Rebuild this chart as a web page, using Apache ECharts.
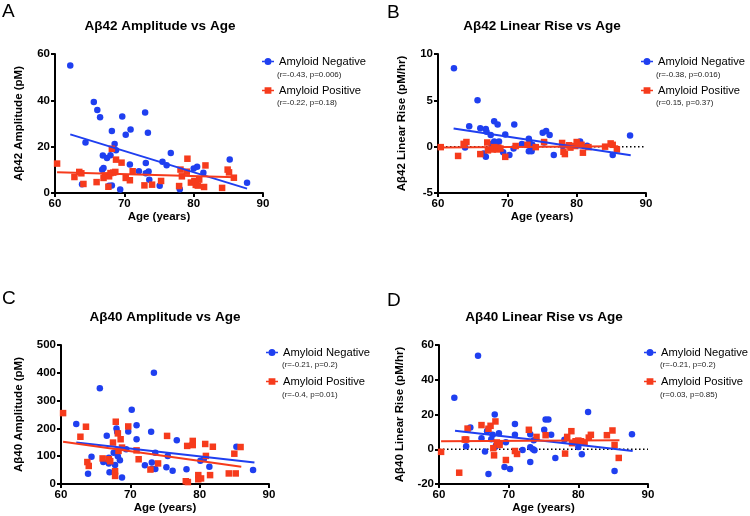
<!DOCTYPE html>
<html><head><meta charset="utf-8">
<script src="https://cdn.jsdelivr.net/npm/echarts@6/dist/echarts.min.js"></script>
<style>html,body{margin:0;padding:0;background:#fff}#c{width:750px;height:516px}</style>
</head><body><div id="c"></div>
<script>
// ---------- data ----------
const xTicks = [60, 70, 80, 90];
const panelLetters = ['A', 'B', 'C', 'D'];
const panelTitles = ['Aβ42 Amplitude vs Age', 'Aβ42 Linear Rise vs Age', 'Aβ40 Amplitude vs Age', 'Aβ40 Linear Rise vs Age'];
const yNames = ['Aβ42 Amplitude (pM)', 'Aβ42 Linear Rise (pM/hr)', 'Aβ40 Amplitude (pM)', 'Aβ40 Linear Rise (pM/hr)'];
const xName = 'Age (years)';
const seriesNames = ['Amyloid Negative', 'Amyloid Positive'];
const statsNeg = ['(r=-0.43, p=0.006)', '(r=-0.38, p=0.016)', '(r=-0.21, p=0.2)', '(r=-0.21, p=0.2)'];
const statsPos = ['(r=-0.22, p=0.18)', '(r=0.15, p=0.37)', '(r=-0.4, p=0.01)', '(r=0.03, p=0.85)'];
const yMin = [0, -5, 0, -20];
const yMax = [60, 10, 500, 60];
const yStep = [20, 5, 100, 20];

const A_neg = [[62.2,55],[65.6,39.3],[66.1,35.8],[66.5,32.7],[64.4,21.8],[63.9,3.8],[66.9,16.2],[66.8,10.0],[67.0,10.8],[67.5,15.1],[68.0,16.3],[68.2,26.8],[68.6,21.2],[68.8,18.4],[67.8,3.1],[68.2,3.2],[69.4,1.5],[69.7,33.0],[70.2,25.1],[70.9,27.4],[70.8,12.3],[72.1,9.4],[73.0,34.7],[73.4,26.0],[73.1,12.9],[73.1,8.5],[73.5,9.3],[73.6,5.7],[75.1,3.1],[75.5,13.5],[76.1,12.0],[76.7,17.3],[78.0,1.6],[80.0,10.6],[80.5,11.3],[81.4,8.7],[85.2,14.5],[87.7,4.4]];
const A_pos = [[60.3,12.7],[62.8,6.9],[63.5,9.1],[63.8,8.5],[64.1,3.9],[66.0,4.7],[67.0,6.5],[67.2,7.6],[67.8,7.2],[68.0,8.6],[67.7,2.7],[68.2,19.1],[68.4,8.8],[68.7,9.1],[68.8,14.4],[69.6,13.1],[70.2,6.5],[70.8,5.5],[71.2,9.4],[72.9,3.3],[74.0,3.6],[75.3,5.2],[77.9,3.0],[78.1,10.1],[78.3,7.2],[79.1,14.8],[79.0,9.2],[79.6,4.5],[80.1,5.2],[80.3,3.5],[80.6,3.2],[80.8,5.8],[81.5,2.6],[81.7,11.9],[84.1,2.2],[84.9,10.1],[85.1,8.9],[85.8,6.6]];
const A_fitNeg = [[62.2,25.3],[87.7,1.9]];
const A_fitPos = [[60.3,9.0],[86.1,6.8]];

const B_neg = [[62.3,8.46],[64.5,2.2],[63.9,-0.1],[65.7,5.0],[66.1,2.0],[66.9,1.9],[67.0,1.6],[66.6,-0.75],[66.9,-1.1],[67.6,1.25],[67.7,0.3],[68.1,2.75],[68.6,2.4],[68.1,0.55],[68.4,0.3],[68.8,0.55],[69.7,1.3],[69.4,-0.6],[70.3,-0.9],[71.0,2.4],[70.9,-0.2],[72.1,0.3],[73.1,0.85],[73.2,0.5],[73.6,0.2],[73.4,-0.25],[73.1,-0.5],[73.5,-0.5],[73.7,-0.1],[75.1,1.5],[75.6,1.7],[76.1,1.25],[75.3,0.45],[76.7,-0.9],[78.0,0.07],[80.1,0.4],[80.5,0.55],[81.5,0.1],[85.2,-0.9],[87.7,1.2]];
const B_pos = [[60.4,-0.05],[62.9,-1.0],[63.7,0.3],[64.1,0.5],[66.1,-0.8],[67.1,0.45],[67.2,-0.4],[67.9,-0.3],[68.1,-0.05],[68.5,-0.3],[68.7,-0.1],[69.0,-0.2],[69.7,-1.1],[71.2,0.07],[72.9,0.2],[74.1,-0.05],[75.3,0.5],[77.9,0.4],[78.1,-0.55],[78.3,-0.8],[78.9,0.15],[79.1,-0.1],[79.8,0.07],[80.0,0.5],[80.7,0.2],[80.9,-0.65],[81.7,-0.05],[84.1,0.0],[84.9,0.35],[85.2,0.2],[85.8,-0.3]];
const B_fitNeg = [[62.25,1.96],[87.8,-0.93]];
const B_fitPos = [[60.2,-0.1],[86.0,0.04]];

const C_neg = [[62.2,216],[64.4,98],[63.9,37],[65.6,344],[66.1,79],[66.6,174],[66.9,94],[66.9,74],[67.0,42],[67.6,112],[67.8,68],[68.0,200],[68.1,187],[68.2,100],[68.5,85],[68.8,23],[69.4,125],[69.7,189],[70.2,267],[70.9,211],[70.9,161],[72.1,67],[73.0,188],[73.1,77],[73.1,54],[73.6,54],[73.4,400],[73.6,112],[75.2,60],[75.4,101],[76.1,48],[76.7,157],[78.1,53],[80.1,84],[80.6,90],[81.4,62],[85.3,134],[87.7,50]];
const C_pos = [[60.3,255],[62.8,170],[63.6,206],[63.8,79],[64.0,65],[66.0,92],[66.9,89],[67.1,82],[67.5,149],[67.8,46],[67.8,29],[67.9,224],[68.2,182],[68.3,119],[68.6,161],[68.8,131],[69.7,207],[70.9,121],[71.2,89],[72.9,52],[74.0,74],[75.3,173],[78.2,137],[78.0,10],[78.3,7],[79.0,155],[79.0,140],[79.8,32],[79.8,17],[80.2,20],[80.8,144],[80.9,101],[81.5,32],[81.9,134],[84.2,38],[85.0,109],[85.2,38],[85.9,133]];
const C_fitNeg = [[62.2,149],[87.9,77]];
const C_fitPos = [[60.3,152],[86.0,62]];

const D_neg = [[62.2,29.7],[63.9,1.7],[64.5,12.5],[65.6,53.8],[66.1,6.4],[66.6,-1.3],[66.9,10.4],[67.0,11.0],[67.1,-14.3],[67.5,5.8],[67.7,8.3],[68.0,20.0],[68.1,1.5],[68.2,2.3],[68.6,9.2],[68.7,3.5],[69.4,-10.2],[69.6,4.0],[70.2,-11.4],[70.9,14.6],[70.9,8.3],[72.0,-0.4],[73.1,8.7],[73.1,-7.3],[73.1,1.2],[73.6,5.2],[73.5,0],[73.7,-0.6],[75.1,11.2],[75.3,17.1],[75.7,17.1],[76.1,8.3],[76.7,-5.0],[78.0,5.4],[80.0,1.3],[80.5,-2.9],[81.4,21.4],[85.2,-12.5],[87.7,8.7]];
const D_pos = [[60.3,-1.5],[62.9,-13.5],[63.7,5.6],[63.9,5.6],[64.1,11.9],[66.1,13.9],[67.1,11.8],[67.4,13.5],[68.1,16.0],[67.8,0.6],[67.9,-3.5],[68.3,3.9],[68.7,2.5],[69.6,-6.2],[70.9,-1.0],[71.2,-2.7],[72.9,11.2],[74.0,7.1],[75.3,8.1],[78.1,-2.5],[78.4,7.1],[79.0,10.4],[79.1,3.5],[79.6,4.6],[80.0,5.0],[80.4,4.6],[80.9,3.9],[81.5,6.7],[81.8,8.3],[84.1,8.1],[84.9,10.8],[85.2,2.5],[85.8,-5.0]];
const D_fitNeg = [[62.3,10.6],[87.8,-1.0]];
const D_fitPos = [[60.3,4.6],[85.9,5.2]];

const zeroLine = [[60,0],[90,0]];

// ---------- layout / style ----------
const BLUE = '#1f3ff0', RED = '#f63b1c';
const FONT = '"Liberation Sans", Arial, Helvetica, sans-serif';
const grids = [
  {left: 55, top: 54, width: 208, height: 139},
  {left: 438, top: 54, width: 208, height: 139},
  {left: 61, top: 345, width: 208, height: 139},
  {left: 439, top: 345, width: 209, height: 139}
];
const titleCenters = [[160, 19], [542, 19], [165, 310], [544, 310]];
const letterPos = [[2, 2], [387, 3], [2, 289], [387, 291]];
const legendPos = [[262, 56], [641, 56], [266, 347], [644, 347]];
const statsXY = [[277, 74, 102], [656, 74, 102], [282, 364, 394], [660, 364, 394]];
const yNameGap = [30, 30, 36, 33];

const negData = [A_neg, B_neg, C_neg, D_neg];
const posData = [A_pos, B_pos, C_pos, D_pos];
const fitNeg = [A_fitNeg, B_fitNeg, C_fitNeg, D_fitNeg];
const fitPos = [A_fitPos, B_fitPos, C_fitPos, D_fitPos];
const hasZero = [false, true, false, true];

const negIcon = 'path://M0,2.7H2.6V4.3H0Z M9.4,2.7H12V4.3H9.4Z M2.5,3.5A3.5,3.5 0 1 0 9.5,3.5A3.5,3.5 0 1 0 2.5,3.5Z';
const posIcon = 'path://M0,2.7H2.6V4.3H0Z M9.4,2.7H12V4.3H9.4Z M2.6,0.2H9.4V6.8H2.6Z';

const axisCommon = {
  axisLine: {show: true, onZero: false, lineStyle: {color: '#000', width: 2}},
  axisTick: {show: true, inside: false, length: 4, lineStyle: {color: '#000', width: 2}},
  splitLine: {show: false},
  axisLabel: {color: '#000', fontWeight: 'bold', fontSize: 11.5, fontFamily: FONT}
};

const option = {
  animation: false,
  backgroundColor: '#fff',
  grid: grids.map(g => Object.assign({containLabel: false}, g)),
  title: [],
  legend: [],
  xAxis: [],
  yAxis: [],
  series: [],
  graphic: []
};

for (let i = 0; i < 4; i++) {
  option.title.push({
    text: panelTitles[i], left: titleCenters[i][0], top: titleCenters[i][1], textAlign: 'center', padding: 0,
    textStyle: {fontSize: 13.5, fontWeight: 'bold', color: '#000', fontFamily: FONT}
  });
  option.title.push({
    text: panelLetters[i], left: letterPos[i][0], top: letterPos[i][1], padding: 0,
    textStyle: {fontSize: 19, fontWeight: 'normal', color: '#000', fontFamily: FONT}
  });
  option.xAxis.push(Object.assign({}, axisCommon, {
    type: 'value', gridIndex: i, min: xTicks[0], max: xTicks[xTicks.length - 1], interval: 10,
    name: xName, nameLocation: 'middle', nameGap: 17,
    nameTextStyle: {fontWeight: 'bold', fontSize: 11.5, color: '#000', fontFamily: FONT},
    axisLabel: Object.assign({}, axisCommon.axisLabel, {margin: 5})
  }));
  option.yAxis.push(Object.assign({}, axisCommon, {
    type: 'value', gridIndex: i, min: yMin[i], max: yMax[i], interval: yStep[i],
    name: yNames[i], nameLocation: 'middle', nameGap: yNameGap[i], nameRotate: 90,
    nameTextStyle: {fontWeight: 'bold', fontSize: 11.5, color: '#000', fontFamily: FONT},
    axisLabel: Object.assign({}, axisCommon.axisLabel, {margin: 5})
  }));
  if (hasZero[i]) {
    option.series.push({
      type: 'line', name: 'zero' + i, xAxisIndex: i, yAxisIndex: i, data: zeroLine,
      symbol: 'none', silent: true, z: 1,
      lineStyle: {color: '#000', width: 1.5, type: [1.5, 2.5]}
    });
  }
  option.series.push({
    type: 'scatter', name: seriesNames[0], xAxisIndex: i, yAxisIndex: i, data: negData[i],
    symbol: 'circle', symbolSize: 6.5, itemStyle: {color: BLUE, opacity: 1}, z: 3
  });
  option.series.push({
    type: 'scatter', name: seriesNames[1], xAxisIndex: i, yAxisIndex: i, data: posData[i],
    symbol: 'rect', symbolSize: 6.5, itemStyle: {color: RED, opacity: 1}, z: 3
  });
  option.series.push({
    type: 'line', name: 'fitNeg' + i, xAxisIndex: i, yAxisIndex: i, data: fitNeg[i],
    symbol: 'none', silent: true, z: 4, lineStyle: {color: BLUE, width: 2}
  });
  option.series.push({
    type: 'line', name: 'fitPos' + i, xAxisIndex: i, yAxisIndex: i, data: fitPos[i],
    symbol: 'none', silent: true, z: 4, lineStyle: {color: RED, width: 2}
  });
  option.legend.push({
    left: legendPos[i][0], top: legendPos[i][1], orient: 'vertical', padding: 0,
    itemWidth: 12, itemHeight: 7, itemGap: 18, selectedMode: false,
    textStyle: {fontSize: 11.2, color: '#000', fontFamily: FONT},
    data: [{name: seriesNames[0], icon: negIcon}, {name: seriesNames[1], icon: posIcon}]
  });
  option.graphic.push({
    type: 'text', left: statsXY[i][0], top: statsXY[i][1] - 3.5, silent: true,
    style: {text: statsNeg[i], fontSize: 8, fill: '#222', fontFamily: FONT}
  });
  option.graphic.push({
    type: 'text', left: statsXY[i][0], top: statsXY[i][2] - 3.5, silent: true,
    style: {text: statsPos[i], fontSize: 8, fill: '#222', fontFamily: FONT}
  });
}

const chart = echarts.init(document.getElementById('c'), null, {renderer: 'canvas'});
chart.setOption(option);
</script>
</body></html>
